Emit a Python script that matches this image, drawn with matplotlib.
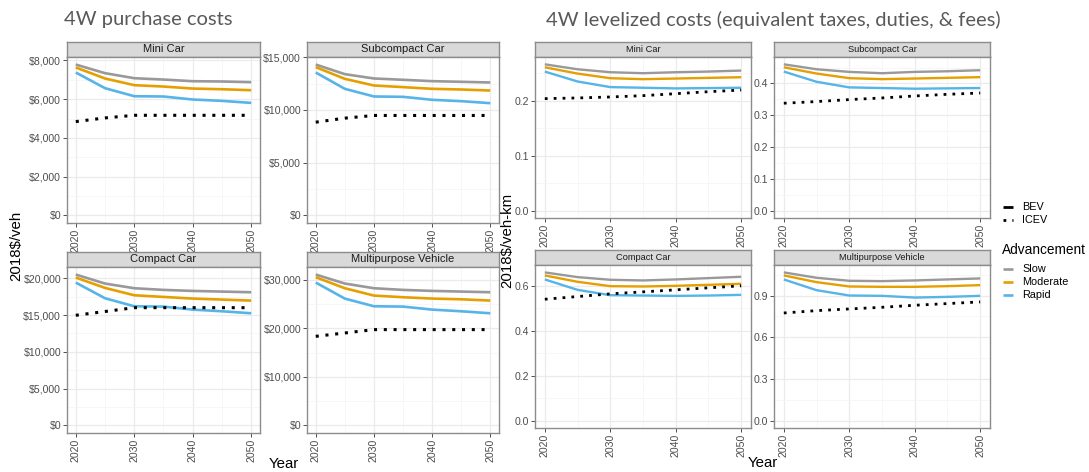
import matplotlib
matplotlib.use("Agg")
import matplotlib.pyplot as plt
from matplotlib.ticker import FuncFormatter, FixedLocator

plt.rcParams['font.family'] = ['Liberation Sans', 'DejaVu Sans']

years = [2020, 2025, 2030, 2035, 2040, 2045, 2050]
vehicles = ["Mini Car", "Subcompact Car", "Compact Car", "Multipurpose Vehicle"]
advancement = ["Slow", "Moderate", "Rapid"]
adv_colors = ["#999999", "#E69F00", "#56B4E9"]

# --- purchase costs (2018$/veh) ---
pur_mini_slow = [7790, 7345, 7085, 7015, 6930, 6915, 6880]
pur_mini_mod = [7640, 7070, 6725, 6655, 6550, 6515, 6465]
pur_mini_rapid = [7380, 6570, 6155, 6140, 5985, 5915, 5810]
pur_mini_icev = [4845, 5035, 5170, 5170, 5170, 5170, 5170]

pur_sub_slow = [14300, 13390, 12980, 12855, 12725, 12665, 12600]
pur_sub_mod = [14055, 12945, 12315, 12160, 12000, 11935, 11840]
pur_sub_rapid = [13545, 12000, 11275, 11240, 10960, 10830, 10640]
pur_sub_icev = [8840, 9220, 9475, 9475, 9475, 9475, 9475]

pur_comp_slow = [20500, 19275, 18640, 18415, 18275, 18185, 18095]
pur_comp_mod = [20090, 18685, 17685, 17460, 17235, 17100, 16960]
pur_comp_rapid = [19410, 17280, 16190, 16145, 15735, 15510, 15240]
pur_comp_icev = [14965, 15480, 16000, 16000, 16000, 16000, 16000]

pur_mpv_slow = [31100, 29245, 28280, 27935, 27730, 27590, 27455]
pur_mpv_mod = [30550, 28280, 26765, 26425, 26150, 26000, 25735]
pur_mpv_rapid = [29450, 26145, 24565, 24495, 23875, 23530, 23120]
pur_mpv_icev = [18370, 19060, 19750, 19750, 19750, 19750, 19750]

# --- levelized costs (2018$/veh-km) ---
lev_mini_slow = [0.2667, 0.2577, 0.2523, 0.2505, 0.2523, 0.2535, 0.2553]
lev_mini_mod = [0.2613, 0.2498, 0.2414, 0.2396, 0.2408, 0.2420, 0.2432]
lev_mini_rapid = [0.2535, 0.2354, 0.2252, 0.2240, 0.2228, 0.2234, 0.2240]
lev_mini_icev = [0.2042, 0.2054, 0.2072, 0.2096, 0.2132, 0.2168, 0.2198]

lev_sub_slow = [0.4601, 0.4446, 0.4363, 0.4321, 0.4363, 0.4383, 0.4415]
lev_sub_mod = [0.4508, 0.4311, 0.4166, 0.4135, 0.4155, 0.4176, 0.4197]
lev_sub_rapid = [0.4373, 0.4052, 0.3876, 0.3855, 0.3834, 0.3845, 0.3855]
lev_sub_icev = [0.3378, 0.3430, 0.3492, 0.3544, 0.3606, 0.3658, 0.3699]

lev_comp_slow = [0.6597, 0.6388, 0.6269, 0.6239, 0.6284, 0.6343, 0.6403]
lev_comp_mod = [0.6463, 0.6179, 0.5985, 0.5970, 0.6000, 0.6045, 0.6090]
lev_comp_rapid = [0.6284, 0.5821, 0.5582, 0.5567, 0.5552, 0.5567, 0.5597]
lev_comp_icev = [0.5403, 0.5522, 0.5642, 0.5731, 0.5821, 0.5910, 0.6000]

lev_mpv_slow = [1.0666, 1.0280, 1.0063, 1.0039, 1.0087, 1.0160, 1.0232]
lev_mpv_mod = [1.0449, 0.9966, 0.9653, 0.9629, 0.9629, 0.9677, 0.9749]
lev_mpv_rapid = [1.0159, 0.9387, 0.9003, 0.8979, 0.8856, 0.8904, 0.8979]
lev_mpv_icev = [0.7746, 0.7915, 0.8036, 0.8156, 0.8301, 0.8422, 0.8543]

pur_ticks = [[0, 2000, 4000, 6000, 8000], [0, 5000, 10000, 15000],
             [0, 5000, 10000, 15000, 20000], [0, 10000, 20000, 30000]]
lev_ticks = [[0.0, 0.1, 0.2], [0.0, 0.1, 0.2, 0.3, 0.4],
             [0.0, 0.2, 0.4, 0.6], [0.0, 0.3, 0.6, 0.9]]

purchase = [
    (pur_mini_slow, pur_mini_mod, pur_mini_rapid, pur_mini_icev),
    (pur_sub_slow, pur_sub_mod, pur_sub_rapid, pur_sub_icev),
    (pur_comp_slow, pur_comp_mod, pur_comp_rapid, pur_comp_icev),
    (pur_mpv_slow, pur_mpv_mod, pur_mpv_rapid, pur_mpv_icev),
]
levelized = [
    (lev_mini_slow, lev_mini_mod, lev_mini_rapid, lev_mini_icev),
    (lev_sub_slow, lev_sub_mod, lev_sub_rapid, lev_sub_icev),
    (lev_comp_slow, lev_comp_mod, lev_comp_rapid, lev_comp_icev),
    (lev_mpv_slow, lev_mpv_mod, lev_mpv_rapid, lev_mpv_icev),
]

W, H = 1089, 472
fig = plt.figure(figsize=(W / 100, H / 100), dpi=100)

BORDER = "#8C8C8C"
TICKC = "#4D4D4D"


def px_axes(x0, y0, x1, y1):
    return fig.add_axes([x0 / W, 1 - y1 / H, (x1 - x0) / W, (y1 - y0) / H])


def panel(box, strip_h, name, series, yticks, fmt, strip_size, lw, dot):
    x0, y0, x1, y1 = box
    # strip
    st = px_axes(x0, y0, x1, y0 + strip_h)
    st.set_facecolor("#D9D9D9")
    st.set_xticks([])
    st.set_yticks([])
    for s in st.spines.values():
        s.set_color(BORDER)
        s.set_linewidth(1.0)
    st.text(0.5, 0.5, name, ha="center", va="center", fontsize=strip_size,
            color="#1A1A1A", transform=st.transAxes)

    ax = px_axes(x0, y0 + strip_h, x1, y1)
    for vals, c in zip(series[:3], adv_colors):
        ax.plot(years, vals, color=c, lw=lw, solid_capstyle="butt", zorder=3)
    ax.plot(years, series[3], color="black", lw=dot[0], linestyle=(0, dot[1]),
            dash_capstyle="butt", zorder=4)

    top = max(max(v) for v in series)
    ax.set_ylim(-0.05 * top, top * 1.05)
    ax.set_xlim(2020 - 1.5, 2050 + 1.5)

    ax.xaxis.set_major_locator(FixedLocator([2020, 2030, 2040, 2050]))
    ax.xaxis.set_minor_locator(FixedLocator([2025, 2035, 2045]))
    ax.yaxis.set_major_locator(FixedLocator(yticks))
    step = yticks[1] - yticks[0]
    ax.yaxis.set_minor_locator(FixedLocator([t + step / 2 for t in yticks
                                             if t + step / 2 < top * 1.05]))
    ax.yaxis.set_major_formatter(FuncFormatter(fmt))
    ax.grid(which="major", color="#EBEBEB", lw=0.9)
    ax.grid(which="minor", color="#F4F4F4", lw=0.5)
    ax.set_axisbelow(True)
    ax.tick_params(which="major", length=2.8, width=0.6, color="#333333",
                   labelsize=7.6, labelcolor=TICKC, pad=1.5)
    ax.tick_params(which="minor", length=0)
    ax.tick_params(axis="x", labelrotation=90)
    for s in ax.spines.values():
        s.set_color(BORDER)
        s.set_linewidth(1.0)
    return ax


dollar = lambda v, _: f"${int(round(v)):,}"
plain = lambda v, _: f"{v:.1f}"

left_boxes = [(67, 42, 260, 223), (307, 42, 499, 223),
              (67, 252, 260, 433), (307, 252, 499, 433)]
right_boxes = [(535, 42, 751, 218), (774, 42, 990, 218),
               (535, 250, 751, 428), (774, 250, 990, 428)]

for i in range(4):
    panel(left_boxes[i], 15, vehicles[i], purchase[i], pur_ticks[i], dollar,
          8.0, 1.9, (2.2, (1, 2.2)))
    panel(right_boxes[i], 15, vehicles[i], levelized[i], lev_ticks[i], plain,
          6.7, 1.7, (2.0, (1, 2.2)))

# overlay for titles, labels and legend (pixel coords)
ov = fig.add_axes([0, 0, 1, 1], facecolor="none")
ov.set_xlim(0, W)
ov.set_ylim(H, 0)
ov.axis("off")

ov.text(64, 20, "4W purchase costs", fontsize=14.5, color="#595959",
        ha="left", va="center", family=["Lato", "DejaVu Sans"])
ov.text(546, 20, "4W levelized costs (equivalent taxes, duties, & fees)",
        fontsize=14.5, color="#595959", ha="left", va="center",
        family=["Lato", "DejaVu Sans"])

ov.text(16, 246, "2018$/veh", rotation=90, ha="center", va="center",
        fontsize=10.8, color="black")
ov.text(507, 240, "2018$/veh-km", rotation=90, ha="center", va="center",
        fontsize=10.8, color="black")
ov.text(284, 464, "Year", ha="center", va="center", fontsize=10.8)
ov.text(763, 463, "Year", ha="center", va="center", fontsize=10.8)

# legend: fuel type
ov.plot([1003, 1013], [207, 207], color="black", lw=2.0, solid_capstyle="butt")
ov.plot([1003, 1013], [220, 220], color="black", lw=2.0,
        linestyle=(0, (1, 2.2)), dash_capstyle="butt")
ov.text(1022, 207, "BEV", ha="left", va="center", fontsize=7.8, color="black")
ov.text(1022, 220, "ICEV", ha="left", va="center", fontsize=7.8, color="black")

# legend: advancement
ov.text(1002, 250, "Advancement", ha="left", va="center", fontsize=9.8)
for k, (lab, c) in enumerate(zip(advancement, adv_colors)):
    yy = 269 + 13 * k
    ov.plot([1003, 1013], [yy, yy], color=c, lw=1.9, solid_capstyle="butt")
    ov.text(1022, yy, lab, ha="left", va="center", fontsize=7.8)

fig.savefig("out.png", dpi=100)
